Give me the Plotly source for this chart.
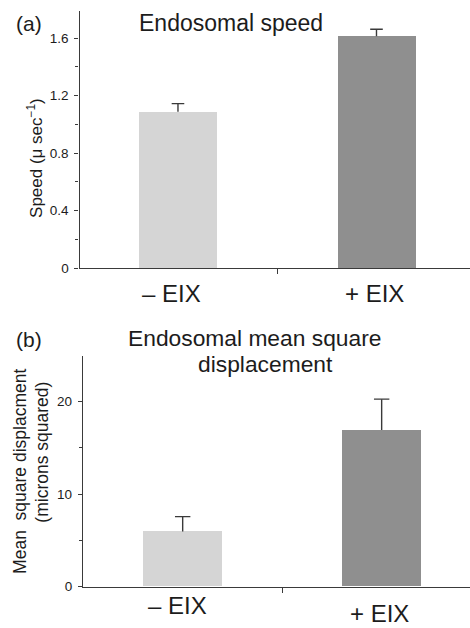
import plotly.graph_objects as go

# ---- data ----
categories = ["\u2013 EIX", "+ EIX"]
speed_values = [1.088, 1.614]
speed_err = [0.057, 0.048]
msd_values = [5.98, 16.93]
msd_err = [1.6, 3.35]
bar_colors = ["#d5d5d5", "#8f8f8f"]

W, H = 470, 628
FONT = "Liberation Sans, Arial, Helvetica, sans-serif"
INK = "#1c1c1c"
AX = "#3a3a3a"

def py(p):  # pixel y -> paper y
    return 1 - p / H

fig = go.Figure()
xs = list(range(len(categories)))

# panel (a)
fig.add_trace(go.Bar(x=xs, y=speed_values, width=0.393, marker=dict(color=bar_colors, line_width=0),
                     xaxis="x", yaxis="y", showlegend=False))
fig.add_trace(go.Scatter(x=xs, y=[v + e for v, e in zip(speed_values, speed_err)],
                         mode="markers",
                         marker=dict(symbol="line-ew-open", size=9, color=AX, line=dict(color=AX, width=1.4)),
                         error_y=dict(type="data", symmetric=False, array=[0] * len(xs), arrayminus=speed_err,
                                      width=0, color=AX, thickness=1.4),
                         xaxis="x", yaxis="y", showlegend=False, hoverinfo="skip"))
# panel (b)
fig.add_trace(go.Bar(x=xs, y=msd_values, width=0.40, marker=dict(color=bar_colors, line_width=0),
                     xaxis="x2", yaxis="y2", showlegend=False))
fig.add_trace(go.Scatter(x=xs, y=[v + e for v, e in zip(msd_values, msd_err)],
                         mode="markers",
                         marker=dict(symbol="line-ew-open", size=11, color=AX, line=dict(color=AX, width=1.4)),
                         error_y=dict(type="data", symmetric=False, array=[0] * len(xs), arrayminus=msd_err,
                                      width=0, color=AX, thickness=1.4),
                         xaxis="x2", yaxis="y2", showlegend=False, hoverinfo="skip"))

xcommon = dict(showgrid=False, zeroline=False, showline=True, linecolor=AX, linewidth=1.3,
               tickvals=[0.5], showticklabels=False, ticks="outside", ticklen=5, tickcolor=AX, tickwidth=1.3)
ycommon = dict(showgrid=False, zeroline=False, showline=True, linecolor=AX, linewidth=1.3,
               ticks="outside", ticklen=4, tickcolor=AX, tickwidth=1.3,
               tickfont=dict(family=FONT, size=13.5, color=INK), ticklabelstandoff=3)

fig.update_layout(
    width=W, height=H, margin=dict(l=0, r=0, t=0, b=0),
    paper_bgcolor="white", plot_bgcolor="white",
    font=dict(family=FONT, color=INK),
    bargap=0,
    xaxis=dict(domain=[79.5 / W, 1], range=[-0.496, 1.471], anchor="y", **xcommon),
    yaxis=dict(domain=[py(271.7), py(11)], range=[0, 1.79], anchor="x",
               tickvals=[0, 0.4, 0.8, 1.2, 1.6], ticktext=["0", "0.4", "0.8", "1.2", "1.6"],
               minor=dict(tickvals=[0.2, 0.6, 1.0, 1.4], ticks="outside", ticklen=3, tickcolor=AX, tickwidth=1.2),
               **ycommon),
    xaxis2=dict(domain=[83 / W, 1], range=[-0.501, 1.444], anchor="y2", **xcommon),
    yaxis2=dict(domain=[py(594.3), py(361)], range=[0, 24.9], anchor="x2",
                tickvals=[0, 10, 20], ticktext=["0", "10", "20"],
                minor=dict(tickvals=[5, 15], ticks="outside", ticklen=3, tickcolor=AX, tickwidth=1.2),
                **ycommon),
)

ann = []
def text(x, y, s, size, xref="paper", yref="paper", angle=0, xshift=0):
    ann.append(dict(x=x, y=y, xref=xref, yref=yref, text=s, showarrow=False, textangle=angle,
                    xanchor="center", yanchor="middle", xshift=xshift,
                    font=dict(family=FONT, size=size, color=INK)))

# panel labels and titles
text(28.5 / W, py(24), "(a)", 21)
text(231 / W, py(23), "Endosomal speed", 23)
text(28.5 / W, py(344), "(b)", 21)
text(254 / W, py(342.5), "Endosomal mean square", 22.8)
text(265 / W, py(369), "displacement", 22.8)

# y titles
text(35 / W, py(160), "Speed (\u03bc sec<sup>\u22121</sup>)", 17, angle=-90)
text(20 / W, py(478), "Mean\u00a0 square displacment", 17.5, angle=-90)
text(42.5 / W, py(458), "(microns squared)", 17.5, angle=-90)

# x category labels
text(xs[0], py(297), categories[0], 24, xref="x", xshift=-6)
text(xs[1], py(297), categories[1], 24, xref="x", xshift=-1.5)
text(xs[0], py(613), categories[0], 24, xref="x2", xshift=-5)
text(xs[1], py(621), categories[1], 24, xref="x2", xshift=-2.5)

fig.update_layout(annotations=ann)
fig.write_html("out.html")
